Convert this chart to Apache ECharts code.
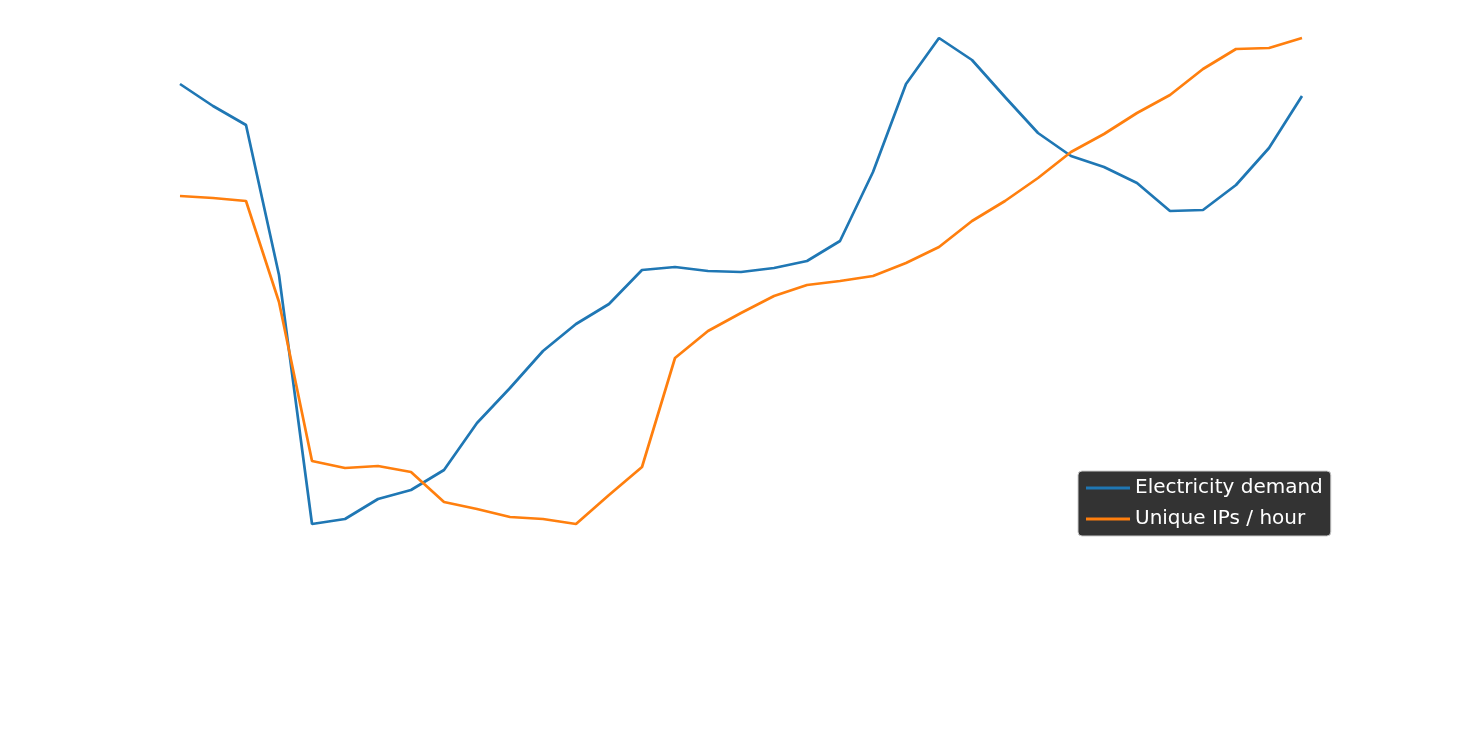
<!DOCTYPE html>
<html>
<head>
<meta charset="utf-8">
<script src="https://cdn.jsdelivr.net/npm/echarts@6/dist/echarts.min.js"></script>
<style>html,body{margin:0;padding:0;background:#fff}#chart{width:1484px;height:734px}</style>
</head>
<body>
<div id="chart"></div>
<script>
var hours = [];
for (var i = 0; i < 35; i++) hours.push(String(i));

// in screen units above the bottom edge
var demand = [650, 628, 609, 459, 210, 215, 235, 244, 264, 311, 346, 383, 410, 430, 464, 467, 463, 462, 466, 473, 493, 562, 650, 696, 674, 637, 601, 578, 567, 551, 523, 524, 549, 586, 638];
var uniqueIps = [538, 536, 533, 432, 273, 266, 268, 262, 232, 225, 217, 215, 210, 239, 267, 376, 403, 421, 438, 449, 453, 458, 471, 487, 513, 533, 556, 582, 600, 621, 639, 665, 685, 686, 696];

var chart = echarts.init(document.getElementById('chart'));
chart.setOption({
  animation: false,
  grid: { left: 180, right: 182, top: 0, bottom: 0 },
  xAxis: { type: 'category', data: hours, boundaryGap: false, show: false },
  yAxis: { type: 'value', min: 0, max: 734, show: false },
  legend: {
    orient: 'vertical',
    left: 1078, top: 471,
    backgroundColor: '#333333',
    borderColor: '#cccccc',
    borderWidth: 1,
    borderRadius: 4,
    padding: [7, 8, 7, 8],
    itemWidth: 44, itemHeight: 3, itemGap: 11,
    icon: 'rect',
    textStyle: { color: '#fff', fontSize: 20, fontFamily: 'DejaVu Sans' },
    data: ['Electricity demand', 'Unique IPs / hour']
  },
  series: [
    { name: 'Electricity demand', type: 'line', data: demand, showSymbol: false,
      color: '#1f77b4', lineStyle: { width: 2.7 } },
    { name: 'Unique IPs / hour', type: 'line', data: uniqueIps, showSymbol: false,
      color: '#ff7f0e', lineStyle: { width: 2.7 } }
  ]
});
</script>
</body>
</html>
